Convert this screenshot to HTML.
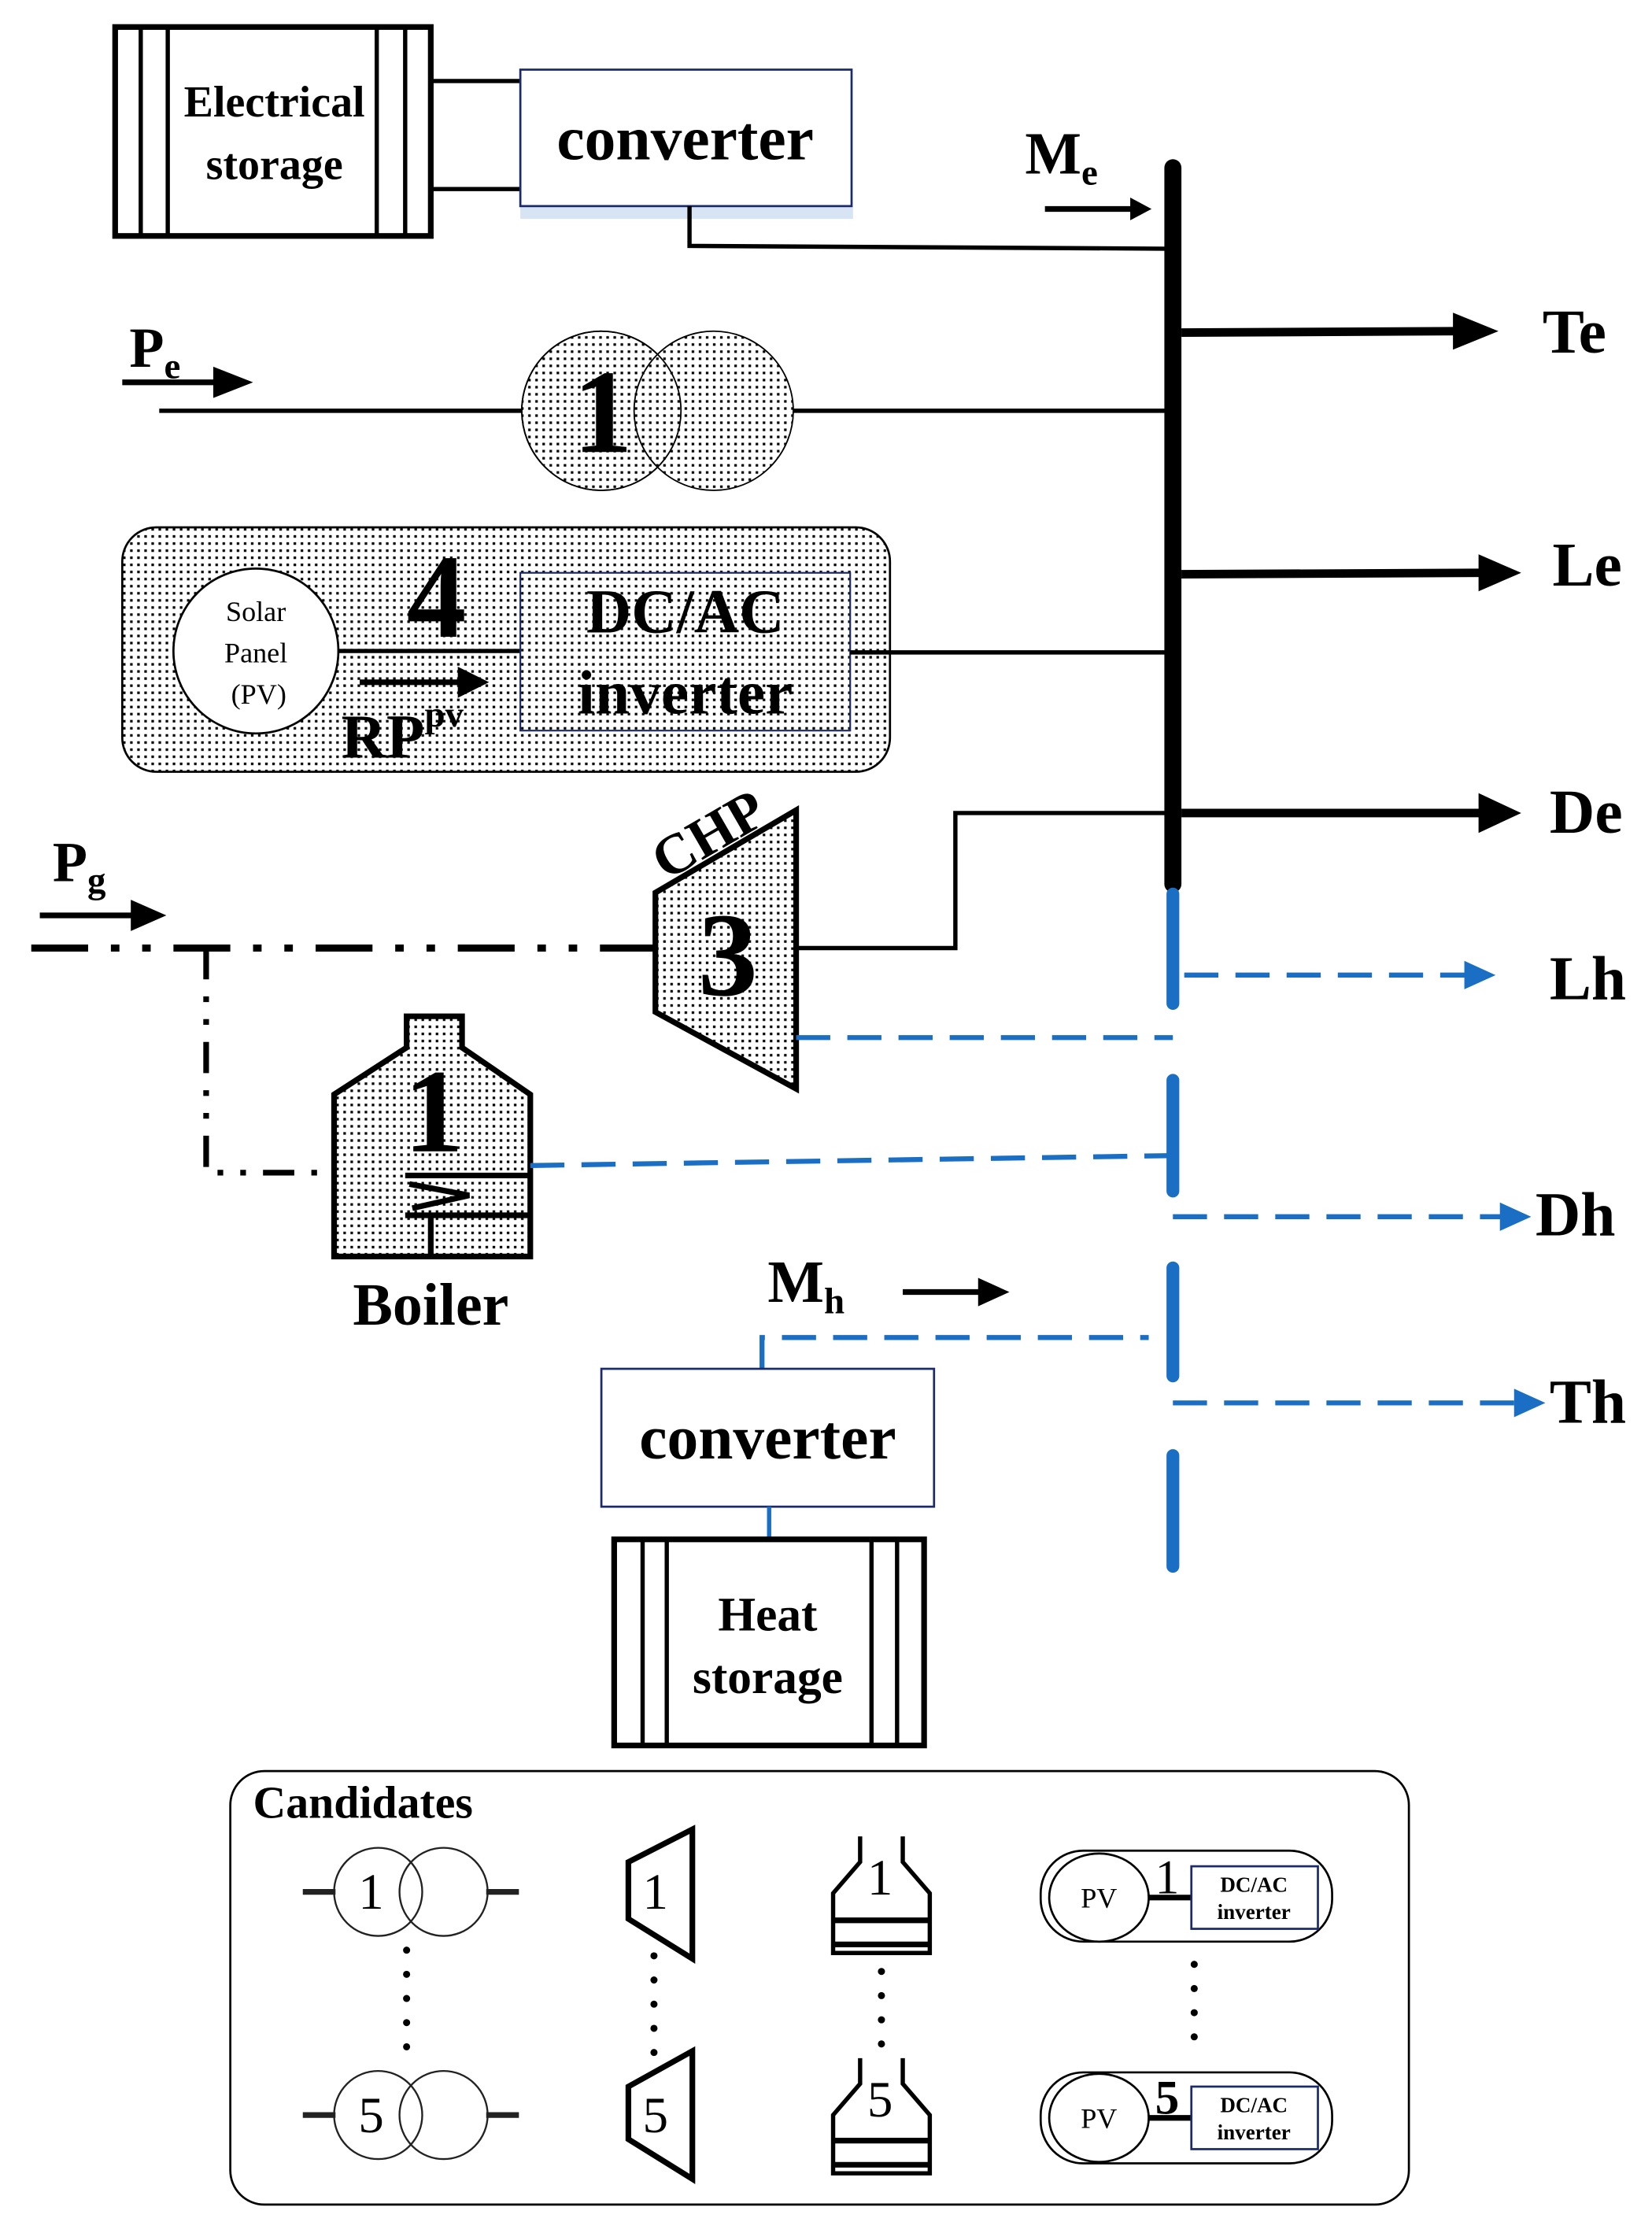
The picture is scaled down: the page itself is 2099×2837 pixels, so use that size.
<!DOCTYPE html>
<html><head><meta charset="utf-8"><style>html,body{margin:0;padding:0;background:#fff}svg{display:block}</style></head>
<body>
<svg xmlns="http://www.w3.org/2000/svg" width="2099" height="2837" viewBox="0 0 1162 1571" preserveAspectRatio="none" font-family="Liberation Serif, serif" font-weight="bold">
<defs>
<pattern id="d" width="5" height="5" patternUnits="userSpaceOnUse"><rect width="5" height="5" fill="#fff"/><rect x="1.5" y="1.5" width="1.8" height="1.8" fill="#000"/></pattern>
</defs>
<!-- Electrical storage -->
<rect x="81" y="19" width="222" height="147" fill="#fff" stroke="#000" stroke-width="4"/>
<g stroke="#000" stroke-width="3"><line x1="99" y1="19" x2="99" y2="166"/><line x1="118" y1="19" x2="118" y2="166"/><line x1="265" y1="19" x2="265" y2="166"/><line x1="285" y1="19" x2="285" y2="166"/>
<line x1="303" y1="57" x2="366" y2="57"/><line x1="303" y1="133" x2="366" y2="133"/></g>
<text x="193" y="82" font-size="31" text-anchor="middle">Electrical</text>
<text x="193" y="126" font-size="31" text-anchor="middle">storage</text>
<!-- converter -->
<rect x="366" y="145" width="234" height="9" fill="#d6e4f3"/>
<rect x="366" y="49" width="233" height="96" fill="#fff" stroke="#1a2a6a" stroke-width="1.5"/>
<text x="482" y="112" font-size="44" text-anchor="middle">converter</text>
<polyline points="485,145 485,173 825,175" fill="none" stroke="#000" stroke-width="3"/>
<text x="721" y="122" font-size="42">M<tspan font-size="26" dy="8">e</tspan></text>
<line x1="735" y1="147" x2="800" y2="147" stroke="#000" stroke-width="4"/><path d="M795,139 L810,147 L795,155z" fill="#000"/>
<!-- bus -->
<line x1="825" y1="118" x2="825" y2="622" stroke="#000" stroke-width="12" stroke-linecap="round"/>
<g stroke="#000" stroke-width="6"><line x1="831" y1="234" x2="1025" y2="233"/><line x1="831" y1="404" x2="1042" y2="403"/><line x1="831" y1="572" x2="1042" y2="572"/></g>
<path d="M1022,220 L1054,233 L1022,246z M1040,390 L1070,403 L1040,416z M1040,558 L1070,572 L1040,586z" fill="#000"/>
<text x="1085" y="248" font-size="44">Te</text>
<text x="1092" y="412" font-size="44">Le</text>
<text x="1090" y="586" font-size="44">De</text>
<!-- Pe -->
<text x="91" y="258" font-size="40">P<tspan font-size="26" dy="8">e</tspan></text>
<line x1="86" y1="269" x2="160" y2="269" stroke="#000" stroke-width="4"/><path d="M150,258 L178,269 L150,280z" fill="#000"/>
<line x1="112" y1="289" x2="368" y2="289" stroke="#000" stroke-width="3"/>
<line x1="557" y1="289" x2="825" y2="289" stroke="#000" stroke-width="3"/>
<ellipse cx="423" cy="289" rx="56" ry="56" fill="url(#d)" stroke="#000" stroke-width="1"/>
<ellipse cx="502" cy="289" rx="56" ry="56" fill="url(#d)" stroke="#000" stroke-width="1"/>
<ellipse cx="423" cy="289" rx="56" ry="56" fill="none" stroke="#000" stroke-width="1"/>
<text x="424" y="318" font-size="84" text-anchor="middle">1</text>
<!-- PV -->
<rect x="86" y="371" width="540" height="172" rx="24" fill="url(#d)" stroke="#000" stroke-width="1.5"/>
<ellipse cx="180" cy="458" rx="58" ry="58" fill="#fff" stroke="#000" stroke-width="1.5"/>
<text x="180" y="437" font-size="20" text-anchor="middle" font-weight="normal">Solar</text>
<text x="180" y="466" font-size="20" text-anchor="middle" font-weight="normal">Panel</text>
<text x="182" y="495" font-size="20" text-anchor="middle" font-weight="normal">(PV)</text>
<line x1="238" y1="458" x2="366" y2="458" stroke="#000" stroke-width="3"/>
<text x="307" y="448" font-size="84" text-anchor="middle">4</text>
<line x1="253" y1="480" x2="330" y2="480" stroke="#000" stroke-width="4"/><path d="M322,469 L344,480 L322,491z" fill="#000"/>
<text x="240" y="533" font-size="44">RP<tspan font-size="26" dy="-22">pv</tspan></text>
<rect x="366" y="403" width="232" height="111" fill="none" stroke="#1a2a6a" stroke-width="1.2"/>
<text x="482" y="445" font-size="44" text-anchor="middle">DC/AC</text>
<text x="482" y="502" font-size="44" text-anchor="middle">inverter</text>
<line x1="598" y1="459" x2="825" y2="459" stroke="#000" stroke-width="3"/>
<!-- CHP -->
<polygon points="461,628 560,570 560,766 461,712" fill="url(#d)" stroke="#000" stroke-width="4"/>
<text x="500" y="600" font-size="40" text-anchor="middle" transform="rotate(-30 500 590)">CHP</text>
<text x="512" y="700" font-size="84" text-anchor="middle">3</text>
<polyline points="560,667 672,667 672,572 825,572" fill="none" stroke="#000" stroke-width="3"/>
<text x="37" y="620" font-size="40">P<tspan font-size="26" dy="8">g</tspan></text>
<line x1="28" y1="644" x2="100" y2="644" stroke="#000" stroke-width="4"/><path d="M92,633 L117,644 L92,655z" fill="#000"/>
<line x1="22" y1="667" x2="461" y2="667" stroke="#000" stroke-width="5" stroke-dasharray="40,16,6,16,6,16"/>
<polyline points="145,667 145,825 232,825" fill="none" stroke="#000" stroke-width="4" stroke-dasharray="22,12,4,12,4,12"/>
<!-- Boiler -->
<polygon points="286,715 325,715 325,737 373,770 373,884 235,884 235,770 286,737" fill="url(#d)" stroke="#000" stroke-width="4"/>
<text x="305" y="810" font-size="84" text-anchor="middle">1</text>
<g stroke="#000" stroke-width="4"><line x1="285" y1="827" x2="373" y2="827"/><line x1="285" y1="855" x2="373" y2="855"/><polyline points="288,833 330,841 290,850" fill="none"/><line x1="303" y1="855" x2="303" y2="884"/></g>
<text x="303" y="932" font-size="42" text-anchor="middle">Boiler</text>
<!-- Heat bus -->
<g stroke="#1a6fc4" stroke-width="9" stroke-linecap="round"><line x1="825" y1="629" x2="825" y2="706"/><line x1="825" y1="760" x2="825" y2="838"/><line x1="825" y1="892" x2="825" y2="968"/><line x1="825" y1="1024" x2="825" y2="1102"/></g>
<g stroke="#1a6fc4" stroke-width="3.5" stroke-dasharray="24,12" fill="none">
<line x1="833" y1="686" x2="1035" y2="686"/><line x1="825" y1="856" x2="1060" y2="856"/><line x1="825" y1="987" x2="1068" y2="987"/>
<line x1="560" y1="730" x2="825" y2="730"/><line x1="373" y1="820" x2="825" y2="813"/>
<polyline points="536,963 536,941 808,941"/></g>
<path d="M1030,676 L1052,686 L1030,696z M1055,846 L1077,856 L1055,866z M1065,977 L1087,987 L1065,997z" fill="#1a6fc4"/>
<text x="1090" y="703" font-size="44">Lh</text>
<text x="1080" y="869" font-size="44">Dh</text>
<text x="1090" y="1001" font-size="44">Th</text>
<text x="540" y="916" font-size="42">M<tspan font-size="26" dy="8">h</tspan></text>
<line x1="635" y1="909" x2="695" y2="909" stroke="#000" stroke-width="4"/><path d="M688,899 L710,909 L688,919z" fill="#000"/>
<!-- converter 2 -->
<rect x="423" y="963" width="234" height="97" fill="#fff" stroke="#1a2a6a" stroke-width="1.5"/>
<text x="540" y="1026" font-size="44" text-anchor="middle">converter</text>
<line x1="541" y1="1060" x2="541" y2="1082" stroke="#1a6fc4" stroke-width="3"/>
<rect x="432" y="1083" width="218" height="145" fill="#fff" stroke="#000" stroke-width="4"/>
<g stroke="#000" stroke-width="3"><line x1="452" y1="1083" x2="452" y2="1228"/><line x1="469" y1="1083" x2="469" y2="1228"/><line x1="613" y1="1083" x2="613" y2="1228"/><line x1="631" y1="1083" x2="631" y2="1228"/></g>
<text x="540" y="1147" font-size="34" text-anchor="middle">Heat</text>
<text x="540" y="1191" font-size="34" text-anchor="middle">storage</text>
<!-- Candidates -->
<rect x="162" y="1246" width="829" height="305" rx="24" fill="none" stroke="#000" stroke-width="1.5"/>
<text x="178" y="1279" font-size="32">Candidates</text>
<g font-weight="normal" font-size="36" text-anchor="middle">
<g fill="none" stroke="#222" stroke-width="1.3"><circle cx="266" cy="1331" r="31"/><circle cx="312" cy="1331" r="31"/><circle cx="266" cy="1488" r="31"/><circle cx="312" cy="1488" r="31"/></g>
<g stroke="#222" stroke-width="4"><line x1="213" y1="1331" x2="236" y2="1331"/><line x1="342" y1="1331" x2="365" y2="1331"/><line x1="213" y1="1488" x2="236" y2="1488"/><line x1="342" y1="1488" x2="365" y2="1488"/></g>
<text x="261" y="1343">1</text><text x="261" y="1500">5</text>
<polygon points="442,1310 487,1287 487,1378 442,1350" fill="none" stroke="#000" stroke-width="4"/>
<polygon points="442,1468 487,1443 487,1533 442,1505" fill="none" stroke="#000" stroke-width="4"/>
<text x="461" y="1343">1</text><text x="461" y="1500">5</text>
<g fill="none" stroke="#000" stroke-width="3"><polyline points="605,1292 605,1310 586,1332 586,1374 654,1374 654,1332 635,1310 635,1292"/><polyline points="605,1448 605,1466 586,1488 586,1529 654,1529 654,1488 635,1466 635,1448"/></g>
<g stroke="#000" stroke-width="4"><line x1="586" y1="1351" x2="654" y2="1351"/><line x1="586" y1="1368" x2="654" y2="1368"/><line x1="586" y1="1506" x2="654" y2="1506"/><line x1="586" y1="1523" x2="654" y2="1523"/></g>
<text x="619" y="1333">1</text><text x="619" y="1489">5</text>
<g fill="#000"><circle cx="286" cy="1372" r="2.5"/><circle cx="286" cy="1389" r="2.5"/><circle cx="286" cy="1406" r="2.5"/><circle cx="286" cy="1423" r="2.5"/><circle cx="286" cy="1440" r="2.5"/>
<circle cx="460" cy="1376" r="2.5"/><circle cx="460" cy="1393" r="2.5"/><circle cx="460" cy="1410" r="2.5"/><circle cx="460" cy="1427" r="2.5"/><circle cx="460" cy="1444" r="2.5"/>
<circle cx="620" cy="1387" r="2.5"/><circle cx="620" cy="1404" r="2.5"/><circle cx="620" cy="1421" r="2.5"/><circle cx="620" cy="1438" r="2.5"/>
<circle cx="840" cy="1382" r="2.5"/><circle cx="840" cy="1399" r="2.5"/><circle cx="840" cy="1416" r="2.5"/><circle cx="840" cy="1433" r="2.5"/></g>
<g fill="none" stroke="#000" stroke-width="1.5"><rect x="732" y="1302" width="205" height="64" rx="30"/><rect x="732" y="1458" width="205" height="64" rx="30"/><ellipse cx="773" cy="1335" rx="35" ry="31"/><ellipse cx="773" cy="1490" rx="35" ry="31"/></g>
<g stroke="#000" stroke-width="4"><line x1="808" y1="1335" x2="838" y2="1335"/><line x1="808" y1="1490" x2="838" y2="1490"/></g>
<g fill="none" stroke="#1a2a6a" stroke-width="1.5"><rect x="838" y="1313" width="89" height="44"/><rect x="838" y="1468" width="89" height="44"/></g>
<text x="773" y="1342" font-size="20">PV</text><text x="773" y="1497" font-size="20">PV</text>
<text x="821" y="1332" font-size="34">1</text><text x="821" y="1487" font-size="34" font-weight="bold">5</text>
<g font-size="15" font-weight="bold"><text x="882" y="1331">DC/AC</text><text x="882" y="1350">inverter</text><text x="882" y="1486">DC/AC</text><text x="882" y="1505">inverter</text></g>
</g>
</svg>
</body></html>
